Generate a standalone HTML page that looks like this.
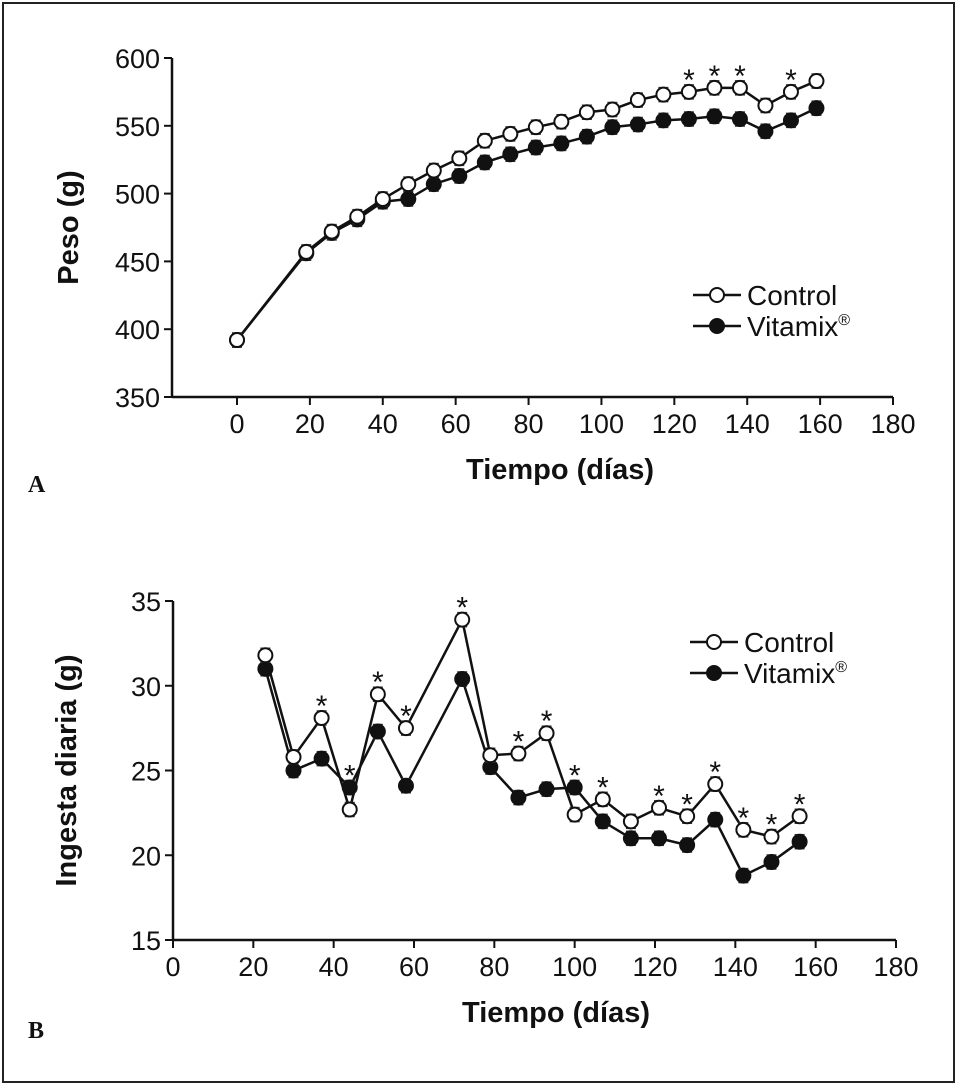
<!DOCTYPE html>
<html><head><meta charset="utf-8"><style>
html,body{margin:0;padding:0;background:#fff}
svg{display:block}
text{font-family:"Liberation Sans",Arial,sans-serif;fill:#111}
</style></head><body>
<svg id="fig" width="958" height="1086" viewBox="0 0 958 1086">
<rect x="3" y="3" width="951" height="1079" fill="#fff" stroke="#222" stroke-width="2"/>
<g id="chartA"></g>
<g id="chartB"></g>
<text x="28" y="492" font-weight="bold" font-size="24" style="font-family:'Liberation Serif',serif">A</text>
<text x="28" y="1038" font-weight="bold" font-size="24" style="font-family:'Liberation Serif',serif">B</text>
</svg>
<script>
const NS="http://www.w3.org/2000/svg";
// Chart A data
const daysA=[0,19,26,33,40,47,54,61,68,75,82,89,96,103,110,117,124,131,138,145,152,159];
const controlA=[392,457,472,483,496,507,517,526,539,544,549,553,560,562,569,573,575,578,578,565,575,583];
const vitamixA=[392,456,471,481,494,496,507,513,523,529,534,537,542,549,551,554,555,557,555,546,554,563];
const starsA=[124,131,138,152];
const xTicksA=[0,20,40,60,80,100,120,140,160,180];
const yTicksA=[350,400,450,500,550,600];
// Chart B data
const daysB=[23,30,37,44,51,58,72,79,86,93,100,107,114,121,128,135,142,149,156];
const controlB=[31.8,25.8,28.1,22.7,29.5,27.5,33.9,25.9,26.0,27.2,22.4,23.3,22.0,22.8,22.3,24.2,21.5,21.1,22.3];
const vitamixB=[31.0,25.0,25.7,24.0,27.3,24.1,30.4,25.2,23.4,23.9,24.0,22.0,21.0,21.0,20.6,22.1,18.8,19.6,20.8];
const starsB=[37,44,51,58,72,86,93,100,107,121,128,135,142,149,156];
const xTicksB=[0,20,40,60,80,100,120,140,160,180];
const yTicksB=[15,20,25,30,35];

function mk(tag,attrs,parent){const e=document.createElementNS(NS,tag);for(const k in attrs)e.setAttribute(k,attrs[k]);parent.appendChild(e);return e;}

function draw(g,cfg){
  const X=v=>cfg.x0+(v-cfg.xmin)/(cfg.xmax-cfg.xmin)*(cfg.x1-cfg.x0);
  const Y=v=>cfg.yb+(v-cfg.ymin)/(cfg.ymax-cfg.ymin)*(cfg.yt-cfg.yb);
  let ax=mk('line',{x1:cfg.ax,y1:cfg.yt,x2:cfg.ax,y2:cfg.yb,stroke:'#111','stroke-width':2.5},g);
  
  
  let xa=mk('line',{x1:cfg.ax,y1:cfg.yb,x2:X(cfg.xmax),y2:cfg.yb,stroke:'#111','stroke-width':2.5},g);
  
  
  cfg.yt_.forEach(v=>{
    mk('line',{x1:cfg.ax-8,y1:Y(v),x2:cfg.ax,y2:Y(v),stroke:'#111','stroke-width':2},g);
    const t=mk('text',{x:cfg.ax-12,y:Y(v)+10,'text-anchor':'end','font-size':27},g);t.textContent=v;
    
    
  });
  cfg.xt_.forEach(v=>{
    mk('line',{x1:X(v),y1:cfg.yb,x2:X(v),y2:cfg.yb+8,stroke:'#111','stroke-width':2},g);
    const t=mk('text',{x:X(v),y:cfg.yb+36,'text-anchor':'middle','font-size':27},g);t.textContent=v;
    
    
  });
  const xt=mk('text',{x:cfg.xtx,y:cfg.yb+82,'text-anchor':'middle','font-size':29,'font-weight':'bold'},g);xt.textContent='Tiempo (días)';
  
  
  const yt=mk('text',{x:0,y:0,'text-anchor':'middle','font-size':29,'font-weight':'bold',transform:`translate(${cfg.ytx},${(cfg.yt+cfg.yb)/2}) rotate(-90)`},g);yt.textContent=cfg.ytitle;
  
  
  [[cfg.vit,'#111','vitamix'],[cfg.ctl,'#fff','control']].forEach(([vals,fill,nm])=>{
    const pts=cfg.days.map((d,i)=>X(d)+','+Y(vals[i])).join(' ');
    const pl=mk('polyline',{points:pts,fill:'none',stroke:'#111','stroke-width':2.5},g);
    
    
    cfg.days.forEach((d,i)=>{
      const e=cfg.err;
      mk('line',{x1:X(d),y1:Y(vals[i])-e,x2:X(d),y2:Y(vals[i])+e,stroke:'#333','stroke-width':1.2},g);
      mk('line',{x1:X(d)-5,y1:Y(vals[i])-e,x2:X(d)+5,y2:Y(vals[i])-e,stroke:'#333','stroke-width':1.5},g);
      mk('line',{x1:X(d)-5,y1:Y(vals[i])+e,x2:X(d)+5,y2:Y(vals[i])+e,stroke:'#333','stroke-width':1.5},g);
      const c=mk('circle',{cx:X(d),cy:Y(vals[i]),r:7,fill:fill,stroke:'#111','stroke-width':2},g);
      
      
    });
  });
  cfg.stars.forEach(d=>{
    const i=cfg.days.indexOf(d);
    const top=Math.max(cfg.ctl[i],cfg.vit[i]);
    const s=mk('text',{x:X(d),y:Y(top)-cfg.err+5,'text-anchor':'middle','font-size':30},g);s.textContent='*';
    
    
  });
  const lg=mk('g',{},g);
  
  
  [['Control','#fff',0],['Vitamix','#111',31]].forEach(([lab,fill,dy])=>{
    const y=cfg.ly+dy;
    mk('line',{x1:cfg.lx,y1:y,x2:cfg.lx+48,y2:y,stroke:'#111','stroke-width':2.5},lg);
    mk('circle',{cx:cfg.lx+24,cy:y,r:7,fill:fill,stroke:'#111','stroke-width':2},lg);
    const t=mk('text',{x:cfg.lx+54,y:y+10,'font-size':28},lg);
    t.textContent=lab;
    if(lab==='Vitamix'){const ts=mk('tspan',{'font-size':16,dy:-11},t);ts.textContent='®';}
    
    
  });
}
draw(document.getElementById('chartA'),{x0:237,x1:893,xmin:0,xmax:180,ax:172,yt:58,yb:397,ymin:350,ymax:600,
  yt_:yTicksA,xt_:xTicksA,days:daysA,ctl:controlA,vit:vitamixA,stars:starsA,err:7,xtx:560,ytx:78,ytitle:'Peso (g)',lx:693,ly:295});
draw(document.getElementById('chartB'),{x0:173,x1:896,xmin:0,xmax:180,ax:173,yt:601,yb:940,ymin:15,ymax:35,
  yt_:yTicksB,xt_:xTicksB,days:daysB,ctl:controlB,vit:vitamixB,stars:starsB,err:7,xtx:556,ytx:76,ytitle:'Ingesta diaria (g)',lx:690,ly:642});
</script>
</body></html>
